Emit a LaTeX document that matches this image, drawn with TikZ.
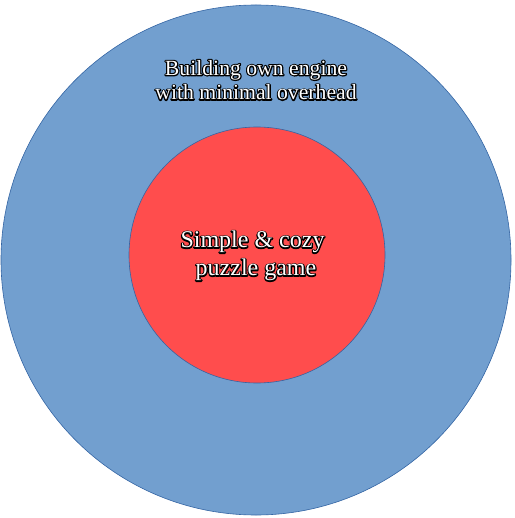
\documentclass[tikz,border=0pt]{standalone}
\usepackage{fontspec}
\setmainfont{Liberation Serif}
\definecolor{ringblue}{HTML}{729FCF}
\definecolor{ringedge}{HTML}{3465A4}
\definecolor{corered}{HTML}{FF4D4D}
% white letters with a black rim
\newcommand{\glowtext}[1]{\rlap{\special{pdf:literal direct 0 0 0 RG 2.4 w 1 j 1 Tr}#1\special{pdf:literal direct 0 Tr}}{\color{white}#1}}
\begin{document}
\begin{tikzpicture}[x=1pt,y=-1pt]

\useasboundingbox (0,0) rectangle (514,518);

% Outer ring
\node[circle,draw=ringedge,fill=ringblue,line width=0.6pt,
  minimum size=510,inner sep=0pt] (outer) at (256,260) {};

\node[align=center,font=\fontsize{21.7}{24.5}\selectfont] (outerlabel) at (256,80)
{\glowtext{Building own engine}\\\glowtext{with minimal overhead}};

% Inner core
\node[circle,draw=ringedge,fill=corered,line width=0.6pt,
  minimum size=256,inner sep=0pt] (inner) at (257,255) {};

\node[align=center,font=\fontsize{24}{28}\selectfont] (innerlabel) at (256,256)
{\glowtext{Simple \& cozy}\hspace*{7pt}\\\glowtext{puzzle game}};

\end{tikzpicture}
\end{document}
